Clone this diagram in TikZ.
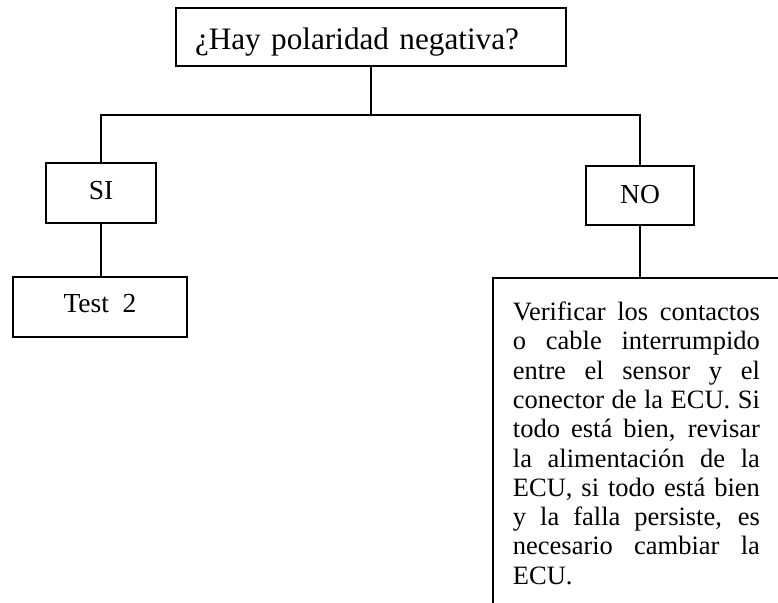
\documentclass[tikz,border=0pt]{standalone}
\usepackage{fontspec}
\setmainfont{Liberation Serif}
\begin{document}
\begin{tikzpicture}
[x=1pt, y=-1pt, font=\fontsize{26.5}{29.3}\selectfont]
\tikzstyle{box}=[draw, line width=1.8pt, inner sep=0pt]
\tikzstyle{small}=[box, font=\fontsize{27.5}{31}\selectfont]
\tikzstyle{link}=[line width=1.2pt]
\useasboundingbox (0,0) rectangle (778,602);
\clip (0,0) rectangle (778,602);
\node[box]	(P)	at (371,7)	[anchor=north, text width=352pt, inner xsep=19pt, text height=42pt, text depth=16pt, align=left, font=\fontsize{31.2}{35}\selectfont] {¿Hay polaridad negativa?};
\node[small]	(SI)	at (101,193)	[minimum width=110pt, text height=36pt, text depth=24pt] {SI};
\node[small]	(NO)	at (640,195.5)	[minimum width=108pt, text height=37pt, text depth=22pt] {NO};
\node[small]	(T2)	at (100,307)	[minimum width=174pt, text height=35pt, text depth=25pt] {Test~~2};
\node[box]	(V)	at (492,277)	[anchor=north west, text width=247pt, inner xsep=20pt, inner ysep=24pt, align=justify]
	{Verificar los contactos\linebreak o cable interrumpido\linebreak entre el sensor y el\linebreak conector de la ECU. Si\linebreak todo está bien, revisar\linebreak la alimentación de la\linebreak ECU, si todo está bien\linebreak y la falla persiste, es\linebreak necesario cambiar la\linebreak ECU.};

\coordinate	(J)	at (373,115);
\draw[link]	(P.south) -- (P.south |- J);
\draw[link]	(SI.north) |- (J) -| (NO.north);
\draw[link]	(SI.south) -- (SI.south |- T2.north);
\draw[link]	(NO.south) -- (NO.south |- V.north);
\end{tikzpicture}
\end{document}
